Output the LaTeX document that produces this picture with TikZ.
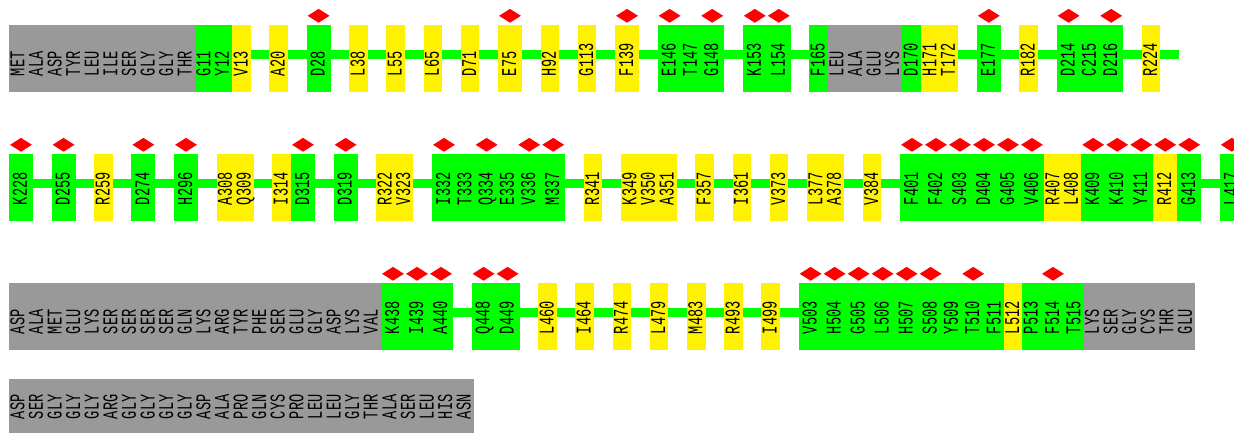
\documentclass[tikz,border=0pt]{standalone}
\usepackage{fontspec}
\usetikzlibrary{shapes.geometric, positioning, backgrounds}
\newfontfamily\resfont{Liberation Mono}
\definecolor{resgrey}{RGB}{153,153,153}
\tikzstyle{grey_res} = [rectangle, fill=resgrey, minimum width=18.6pt, minimum height=67pt, inner sep=0pt, outer sep=0pt]
\tikzstyle{green_res} = [grey_res, fill=green]
\tikzstyle{yellow_res} = [grey_res, fill=yellow]
\tikzstyle{tail_res} = [grey_res, minimum height=54pt]
\tikzstyle{site_mark} = [diamond, fill=red, minimum width=22pt, minimum height=14pt, inner sep=0pt, label distance=2pt]
\tikzstyle{green_site} = [green_res, minimum width=24pt, label={[site_mark]north:}]
\tikzstyle{yellow_site} = [yellow_res, minimum width=24pt, label={[site_mark]north:}]
\tikzstyle{res_text} = [rotate=90, xscale=0.65, anchor=west, inner sep=0pt, text height=12pt, text depth=0pt, font=\resfont\fontsize{21pt}{21pt}\selectfont]
\tikzstyle{backbone} = [green, line width=9.5pt]

\begin{document}
\begin{tikzpicture}[x=1pt, y=1pt]
    \useasboundingbox (0,0) rectangle (1234,433);

    % row 1
    \node (r1c1) [grey_res, anchor=west] at (9,374.5) {};
    \node (r1t1) [res_text] at ([yshift=15.7pt]r1c1.south) {MET};
    \foreach \lab/\kind/\gapw [count=\i from 2, remember=\i as \j (initially 1)] in {ALA/grey_res/0, ASP/grey_res/0, TYR/grey_res/0, LEU/grey_res/0, ILE/grey_res/0, SER/grey_res/0, GLY/grey_res/0, GLY/grey_res/0, THR/grey_res/0,
        G11/green_res/0, Y12/green_res/0, V13/yellow_res/0, A20/yellow_res/18.6, D28/green_site/18.6, L38/yellow_res/18.6, L55/yellow_res/18.6, L65/yellow_res/18.6, D71/yellow_res/18.6, E75/yellow_site/18.6, H92/yellow_res/18.6, G113/yellow_res/18.6, F139/yellow_site/18.6,
        E146/green_site/18.6, T147/green_res/0, G148/green_site/0, K153/green_site/18.6, L154/green_site/0, F165/green_res/18.6, LEU/grey_res/0, ALA/grey_res/0, GLU/grey_res/0, LYS/grey_res/0, D170/green_res/0, H171/yellow_res/0, T172/yellow_res/0,
        E177/green_site/18.6, R182/yellow_res/18.6, D214/green_site/18.6, C215/green_res/0, D216/green_site/0, R224/yellow_res/18.6} {
        \node (r1c\i) [\kind, right=\gapw pt of r1c\j] {};
        \node (r1t\i) [res_text] at ([yshift=15.7pt]r1c\i.south) {\lab};
    }
    \coordinate (r1end) at ([xshift=18.6pt]r1c42.east);

    % row 2
    \node (r2c1) [green_site, anchor=west] at (9,245.5) {};
    \node (r2t1) [res_text] at ([yshift=15.7pt]r2c1.south) {K228};
    \foreach \lab/\kind/\gapw [count=\i from 2, remember=\i as \j (initially 1)] in {D255/green_site/18.6, R259/yellow_res/18.6, D274/green_site/18.6, H296/green_site/18.6, A308/yellow_res/18.6, Q309/yellow_res/0, I314/yellow_res/18.6, D315/green_site/0, D319/green_site/18.6, R322/yellow_res/18.6, V323/yellow_res/0,
        I332/green_site/18.6, T333/green_res/0, Q334/green_site/0, E335/green_res/0, V336/green_site/0, M337/green_site/0, R341/yellow_res/18.6, K349/yellow_res/18.6, V350/yellow_res/0, A351/yellow_res/0, F357/yellow_res/18.6, I361/yellow_res/18.6, V373/yellow_res/18.6, L377/yellow_res/18.6, A378/yellow_res/0, V384/yellow_res/18.6,
        F401/green_site/18.6, F402/green_site/0, S403/green_site/0, D404/green_site/0, G405/green_site/0, V406/green_site/0, R407/yellow_res/0, L408/yellow_res/0, K409/green_site/0, K410/green_site/0, Y411/green_site/0, R412/yellow_site/0, G413/green_site/0, L417/green_site/18.6} {
        \node (r2c\i) [\kind, right=\gapw pt of r2c\j] {};
        \node (r2t\i) [res_text] at ([yshift=15.7pt]r2c\i.south) {\lab};
    }

    % row 3
    \node (r3c1) [grey_res, anchor=west] at (9,116.5) {};
    \node (r3t1) [res_text] at ([yshift=15.7pt]r3c1.south) {ASP};
    \foreach \lab/\kind/\gapw [count=\i from 2, remember=\i as \j (initially 1)] in {ALA/grey_res/0, MET/grey_res/0, GLU/grey_res/0, LYS/grey_res/0, SER/grey_res/0, SER/grey_res/0, SER/grey_res/0, SER/grey_res/0, GLN/grey_res/0, LYS/grey_res/0, ARG/grey_res/0, TYR/grey_res/0, PHE/grey_res/0, SER/grey_res/0, GLU/grey_res/0, GLY/grey_res/0, ASP/grey_res/0, LYS/grey_res/0, VAL/grey_res/0,
        K438/green_site/0, I439/green_site/0, A440/green_site/0, Q448/green_site/18.6, D449/green_site/0, L460/yellow_res/18.6, I464/yellow_res/18.6, R474/yellow_res/18.6, L479/yellow_res/18.6, M483/yellow_res/18.6, R493/yellow_res/18.6, I499/yellow_res/18.6,
        V503/green_site/18.6, H504/green_site/0, G505/green_site/0, L506/green_site/0, H507/green_site/0, S508/green_site/0, Y509/green_res/0, T510/green_site/0, F511/green_res/0, L512/yellow_res/0, P513/green_res/0, F514/green_site/0, T515/green_res/0,
        LYS/grey_res/0, SER/grey_res/0, GLY/grey_res/0, CYS/grey_res/0, THR/grey_res/0, GLU/grey_res/0} {
        \node (r3c\i) [\kind, right=\gapw pt of r3c\j] {};
        \node (r3t\i) [res_text] at ([yshift=15.7pt]r3c\i.south) {\lab};
    }

    % row 4
    \node (r4c1) [tail_res, anchor=west] at (9,27) {};
    \node (r4t1) [res_text] at ([yshift=13.7pt]r4c1.south) {ASP};
    \foreach \lab [count=\i from 2, remember=\i as \j (initially 1)] in {SER, GLY, GLY, GLY, ARG, GLY, GLY, GLY, GLY, ASP, ALA, PRO, GLN, CYS, PRO, LEU, LEU, GLY, THR, ALA, SER, LEU, HIS, ASN} {
        \node (r4c\i) [tail_res, right=0pt of r4c\j] {};
        \node (r4t\i) [res_text] at ([yshift=13.7pt]r4c\i.south) {\lab};
    }

    \begin{scope}[on background layer]
        \draw[backbone] ([yshift=4.2pt]r1c11.west) -- ([yshift=4.2pt]r1end);
        \draw[backbone] ([yshift=4.2pt]r2c1.west) -- ([yshift=4.2pt]r2c42.east);
        \draw[backbone] ([yshift=4.2pt]r3c21.west) -- ([yshift=4.2pt]r3c45.east);
    \end{scope}
\end{tikzpicture}
\end{document}
